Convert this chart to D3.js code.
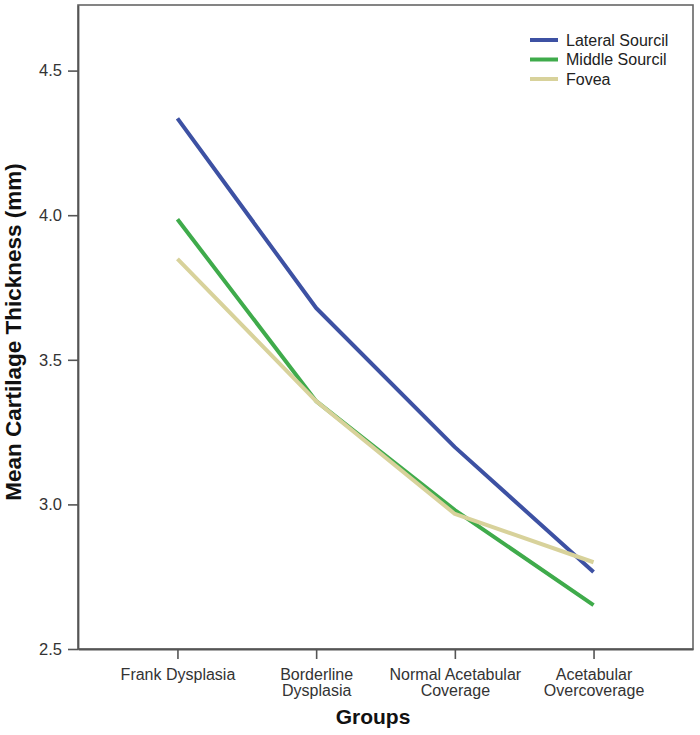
<!DOCTYPE html>
<html>
<head>
<meta charset="utf-8">
<script src="https://cdn.jsdelivr.net/npm/d3@7"></script>
<style>
  html, body { margin: 0; padding: 0; background: #fff; }
  svg { display: block; font-family: "Liberation Sans", Arial, sans-serif; }
</style>
</head>
<body>
<svg id="chart" width="700" height="735"></svg>
<script>
const groups = [
  ["Frank Dysplasia"],
  ["Borderline", "Dysplasia"],
  ["Normal Acetabular", "Coverage"],
  ["Acetabular", "Overcoverage"]
];
const groupKeys = ["Frank Dysplasia", "Borderline Dysplasia", "Normal Acetabular Coverage", "Acetabular Overcoverage"];
const seriesNames = ["Lateral Sourcil", "Middle Sourcil", "Fovea"];
const lateralSourcil = [4.335, 3.679, 3.198, 2.766];
const middleSourcil  = [3.986, 3.357, 2.980, 2.652];
const fovea          = [3.849, 3.357, 2.967, 2.800];
const seriesColors = ["#3d51a3", "#3fab4b", "#d8d29b"];
const yTicks = [2.5, 3.0, 3.5, 4.0, 4.5];
const yTitle = "Mean Cartilage Thickness (mm)";
const xTitle = "Groups";

const seriesValues = [lateralSourcil, middleSourcil, fovea];

const svg = d3.select("#chart");
const pLeft = 78, pRight = 693, pTop = 5, pBottom = 649;

const x = d3.scalePoint().domain(groupKeys).range([pLeft, pRight]).padding(0.717);
const y = d3.scaleLinear().domain([2.5, 2.5 + (pBottom - pTop) / 289.2]).range([pBottom, pTop]);

// frame
svg.append("rect")
  .attr("x", pLeft).attr("y", pTop)
  .attr("width", pRight - pLeft).attr("height", pBottom - pTop)
  .attr("fill", "none").attr("stroke", "#666").attr("stroke-width", 1.6);

// y axis
const yAxis = svg.append("g").attr("transform", `translate(${pLeft},0)`)
  .call(d3.axisLeft(y).tickValues(yTicks).tickFormat(d3.format(".1f"))
    .tickSizeInner(10).tickSizeOuter(0).tickPadding(6));
yAxis.select(".domain").attr("stroke", "#555").attr("stroke-width", 1.8);
yAxis.selectAll(".tick line").attr("stroke", "#555").attr("stroke-width", 1.6);
yAxis.selectAll(".tick text").attr("font-size", 16.5).attr("fill", "#333")
  .attr("font-family", "'Liberation Sans', Arial, sans-serif");

// x axis
const xAxis = svg.append("g").attr("transform", `translate(0,${pBottom})`)
  .call(d3.axisBottom(x).tickSizeInner(10).tickSizeOuter(0).tickFormat(""));
xAxis.select(".domain").attr("stroke", "#555").attr("stroke-width", 1.8);
xAxis.selectAll(".tick line").attr("stroke", "#555").attr("stroke-width", 1.6);
xAxis.selectAll(".tick").each(function(d, i) {
  const t = d3.select(this).append("text")
    .attr("fill", "#333").attr("font-size", 16).attr("text-anchor", "middle")
    .attr("font-family", "'Liberation Sans', Arial, sans-serif");
  groups[i].forEach((line, j) => {
    t.append("tspan").attr("x", 0).attr("y", 31 + j * 16).text(line);
  });
});

// lines
const line = d3.line().x((d, i) => x(groupKeys[i])).y(d => y(d));
seriesValues.forEach((vals, k) => {
  svg.append("path")
    .datum(vals)
    .attr("d", line)
    .attr("fill", "none")
    .attr("stroke", seriesColors[k])
    .attr("stroke-width", 4)
    .attr("stroke-linejoin", "round");
});

// legend
const legend = svg.append("g");
seriesNames.forEach((name, k) => {
  const ly = 40 + k * 19.5;
  legend.append("line")
    .attr("x1", 530).attr("x2", 558).attr("y1", ly).attr("y2", ly)
    .attr("stroke", seriesColors[k]).attr("stroke-width", 4);
  legend.append("text")
    .attr("x", 566).attr("y", ly + 5.5)
    .attr("font-size", 16).attr("fill", "#222")
    .text(name);
});

// titles
svg.append("text")
  .attr("transform", `translate(21,332) rotate(-90)`)
  .attr("text-anchor", "middle")
  .attr("font-weight", "bold").attr("font-size", 22.5).attr("fill", "#111")
  .text(yTitle);
svg.append("text")
  .attr("x", 373).attr("y", 724)
  .attr("text-anchor", "middle")
  .attr("font-weight", "bold").attr("font-size", 21).attr("fill", "#111")
  .text(xTitle);
</script>
</body>
</html>
